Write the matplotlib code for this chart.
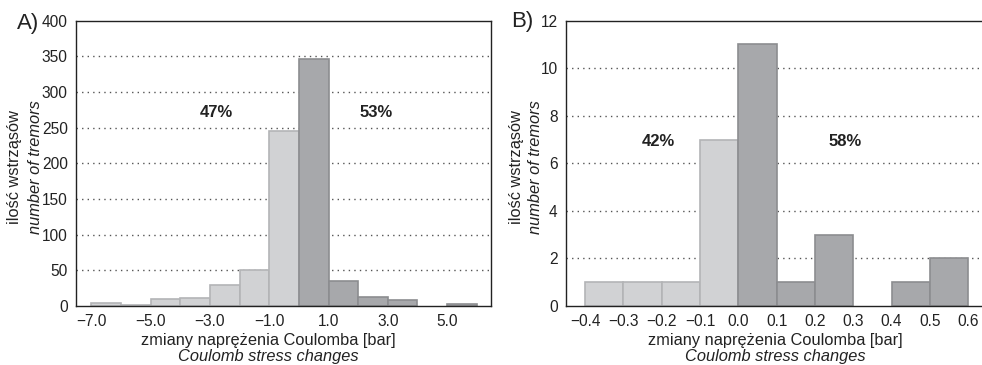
import numpy as np
import matplotlib.pyplot as plt

plt.rcParams['font.family'] = ['Liberation Sans', 'DejaVu Sans']

# panel A: bins of 1 bar from -7 to 6
a_edges = [-7, -6, -5, -4, -3, -2, -1, 0, 1, 2, 3, 4, 5]
a_counts = [4, 2, 10, 11, 29, 51, 246, 346, 35, 13, 9, 0, 3]
a_ticks = [-7.0, -5.0, -3.0, -1.0, 1.0, 3.0, 5.0]

# panel B: bins of 0.1 bar from -0.4 to 0.6
b_edges = [-0.4, -0.3, -0.2, -0.1, 0.0, 0.1, 0.2, 0.3, 0.4, 0.5]
b_counts = [1, 1, 1, 7, 11, 1, 3, 0, 1, 2]
b_ticks = [-0.4, -0.3, -0.2, -0.1, 0.0, 0.1, 0.2, 0.3, 0.4, 0.5, 0.6]

light, light_edge = '#d1d2d4', '#b3b4b6'
dark, dark_edge = '#a7a8ab', '#8c8d90'

W, H = 982, 365
fig = plt.figure(figsize=(W / 100, H / 100), dpi=100)


def px(x0, y0, x1, y1):
    return [x0 / W, 1 - y1 / H, (x1 - x0) / W, (y1 - y0) / H]


def panel(ax, edges, counts, width, ticks, ymax, ystep):
    for e, c in zip(edges, counts):
        if c == 0:
            continue
        neg = e < 0
        ax.bar(e, c, width=width, align='edge', color=light if neg else dark,
               edgecolor=light_edge if neg else dark_edge, linewidth=1.2, zorder=2)
    ax.set_ylim(0, ymax)
    ax.set_yticks(np.arange(0, ymax + ystep / 2, ystep))
    ax.set_xticks(ticks)
    ax.set_xticklabels([f'{t:.1f}'.replace('-', '\u2212') for t in ticks])
    for y in np.arange(ystep, ymax, ystep):
        ax.axhline(y, color='#555555', linestyle=(0, (1, 3)), linewidth=1.0, zorder=1)
    ax.tick_params(length=0, labelsize=11.2, colors='#222222', pad=6)
    for s in ax.spines.values():
        s.set_linewidth(1.0)
        s.set_color('#222222')


axA = fig.add_axes(px(76, 20.7, 491, 306))
panel(axA, a_edges, a_counts, 1.0, a_ticks, 400, 50)
axA.set_xlim(-7.52, 6.48)
axA.text(-2.8, 271, '47%', fontsize=12, fontweight='bold', ha='center', va='center', color='#222222')
axA.text(2.6, 271, '53%', fontsize=12, fontweight='bold', ha='center', va='center', color='#222222')

axB = fig.add_axes(px(566, 20.7, 987.3, 306))
panel(axB, b_edges, b_counts, 0.1, b_ticks, 12, 2)
axB.set_xlim(-0.45, 0.65)
axB.text(-0.21, 6.9, '42%', fontsize=12, fontweight='bold', ha='center', va='center', color='#222222')
axB.text(0.279, 6.9, '58%', fontsize=12, fontweight='bold', ha='center', va='center', color='#222222')

# panel letters
fig.text(28 / W, 1 - 23 / H, 'A)', fontsize=16, ha='center', va='center', color='#222222')
fig.text(522 / W, 1 - 22 / H, 'B)', fontsize=16, ha='center', va='center', color='#222222')

# axis titles (Polish + English)
for xc, y1, y2 in [(268, 340, 357), (775, 340, 357)]:
    fig.text(xc / W, 1 - y1 / H, 'zmiany naprężenia Coulomba [bar]', fontsize=11.8,
             ha='center', va='center', color='#222222')
    fig.text(xc / W, 1 - y2 / H, 'Coulomb stress changes', fontsize=11.8,
             style='italic', ha='center', va='center', color='#222222')
for x1, x2 in [(15, 36), (516, 535)]:
    fig.text(x1 / W, 1 - 167 / H, 'ilość wstrząsów', fontsize=11.8, rotation=90,
             ha='center', va='center', color='#222222')
    fig.text(x2 / W, 1 - 167 / H, 'number of tremors', fontsize=11.8, rotation=90,
             style='italic', ha='center', va='center', color='#222222')

fig.savefig('out.png', dpi=100)
